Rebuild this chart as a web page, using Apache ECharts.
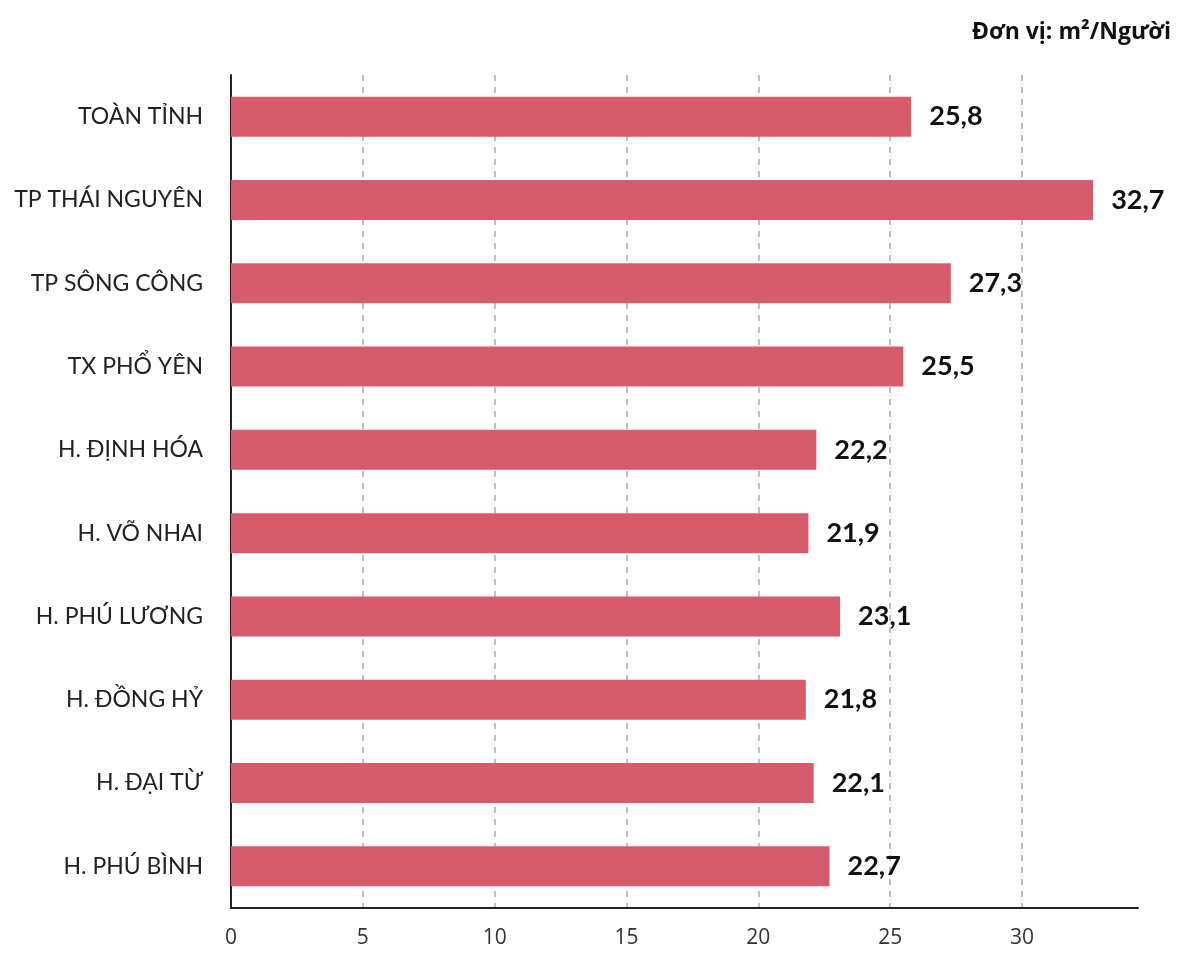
<!DOCTYPE html>
<html>
<head>
<meta charset="utf-8">
<script src="https://cdn.jsdelivr.net/npm/echarts@6/dist/echarts.min.js"></script>
<style>
html, body { margin: 0; padding: 0; background: #fff; }
#chart { width: 1182px; height: 953px; }
</style>
</head>
<body>
<div id="chart"></div>
<script>
// dữ liệu
var categories = ['TOÀN TỈNH', 'TP THÁI NGUYÊN', 'TP SÔNG CÔNG', 'TX PHỔ YÊN', 'H. ĐỊNH HÓA',
    'H. VÕ NHAI', 'H. PHÚ LƯƠNG', 'H. ĐỒNG HỶ', 'H. ĐẠI TỪ', 'H. PHÚ BÌNH'];
var values = [25.8, 32.7, 27.3, 25.5, 22.2, 21.9, 23.1, 21.8, 22.1, 22.7];
var xTicks = [0, 5, 10, 15, 20, 25, 30];

var chart = echarts.init(document.getElementById('chart'));
var option = {
    backgroundColor: '#fff',
    animation: false,
    title: {
        text: 'Đơn vị: m²/Người',
        right: 6,
        top: 16,
        textStyle: {
            fontFamily: 'Open Sans',
            fontWeight: 'bold',
            fontSize: 23,
            color: '#111'
        }
    },
    grid: {
        left: 231,
        right: 44,
        top: 75,
        bottom: 45
    },
    xAxis: {
        type: 'value',
        min: 0,
        max: 34.4,
        interval: 5,
        axisLine: { show: true, lineStyle: { color: '#222', width: 2 } },
        axisTick: { show: false },
        axisLabel: {
            showMaxLabel: false,
            margin: 20,
            fontFamily: 'Open Sans',
            fontSize: 21,
            color: '#333',
            formatter: function (v) {
                return xTicks.indexOf(v) >= 0 ? String(v) : '';
            }
        },
        splitLine: {
            show: true,
            showMinLine: false,
            showMaxLine: false,
            lineStyle: { color: '#aaa', type: [6, 6], width: 1.5 }
        }
    },
    yAxis: {
        type: 'category',
        data: categories,
        inverse: true,
        axisLine: { show: true, lineStyle: { color: '#222', width: 2 } },
        axisTick: { show: false },
        axisLabel: {
            margin: 28,
            fontFamily: 'Lato',
            fontSize: 23,
            color: '#222'
        }
    },
    series: [{
        type: 'bar',
        data: values,
        barWidth: 40,
        itemStyle: { color: '#D65C6C' },
        label: {
            show: true,
            position: 'right',
            distance: 18,
            fontFamily: 'Lato',
            fontWeight: 'bold',
            fontSize: 27,
            color: '#111',
            formatter: function (p) {
                return String(p.value).replace('.', ',');
            }
        }
    }]
};
chart.setOption(option);
</script>
</body>
</html>
